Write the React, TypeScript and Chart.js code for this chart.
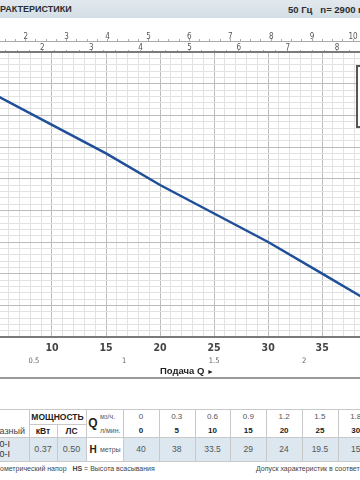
import React, { useEffect, useRef } from "react";
import { Chart, registerables } from "chart.js";
Chart.register(...registerables);

// ---- data ----
const qM3h = [0, 0.3, 0.6, 0.9, 1.2, 1.5, 1.8, 2.1, 2.4];
const qLmin = [0, 5, 10, 15, 20, 25, 30, 35, 40];
const headM = [40, 38, 33.5, 29, 24, 19.5, 15, 10, 5];
const powerKw = "0.37";
const powerHp = "0.50";
const models = ["50-I", "60-I"];
const m3hTicks = [0.5, 1, 1.5, 2];

// visible window of the (cropped) chart, in l/min and metres
const xMinLmin = 5.19;
const xMaxLmin = 38.5;
const yMinM = 0;
const yMaxM = 45;
const L_PER_M3H = 16.6667;
const L_PER_USGPM = 3.78541;
const L_PER_IMPGPM = 4.54609;

const FONT = "'Liberation Sans', Arial, sans-serif";
const NARROW = "'Liberation Sans Narrow', 'DejaVu Sans Condensed', 'Liberation Sans', sans-serif";

const isInt = (v: number) => Math.abs(v - Math.round(v)) < 1e-6;
const fixH = (h: number) => (s: any) => {
  s.height = h;
  s.paddingLeft = 0;
  s.paddingRight = 0;
  s.paddingTop = 0;
  s.paddingBottom = 0;
};

function PumpChart() {
  const ref = useRef<HTMLCanvasElement>(null);
  useEffect(() => {
    if (!ref.current) return;
    const majorMinor = (step: number) => (ctx: any) =>
      ctx.tick && isInt(ctx.tick.value / step) ? "#bcbcbc" : "#e2e2e2";
    const chart = new Chart(ref.current, {
      type: "line",
      data: {
        datasets: [
          {
            data: qLmin.map((q, i) => ({ x: q, y: headM[i] })),
            borderColor: "#1f4f98",
            borderWidth: 2.5,
            pointRadius: 0,
            tension: 0,
            fill: false,
          },
        ],
      },
      options: {
        animation: false,
        responsive: false,
        devicePixelRatio: 1,
        layout: { padding: { top: 29, left: 0, right: 0, bottom: 0 } },
        plugins: { legend: { display: false }, tooltip: { enabled: false } },
        events: [],
        scales: {
          x: {
            type: "linear",
            position: "bottom",
            weight: 0,
            min: xMinLmin,
            max: xMaxLmin,
            ticks: {
              stepSize: 1,
              includeBounds: false,
              autoSkip: false,
              maxRotation: 0,
              padding: 5,
              color: "#444",
              font: { family: NARROW, size: 10.5, weight: "bold" },
              callback: (v: any) => (isInt(v / 5) ? String(v) : ""),
            },
            grid: { color: majorMinor(5), lineWidth: 1, drawTicks: false },
            border: { display: true, color: "#7a7a7a", width: 2 },
            afterFit: fixH(18),
          },
          m3: {
            type: "linear",
            position: "bottom",
            weight: 1,
            min: xMinLmin / L_PER_M3H,
            max: xMaxLmin / L_PER_M3H,
            afterBuildTicks: (s: any) => {
              s.ticks = m3hTicks.map((v) => ({ value: v }));
            },
            ticks: {
              autoSkip: false,
              maxRotation: 0,
              padding: 1.5,
              color: "#666",
              font: { family: NARROW, size: 7.5 },
              callback: (v: any) => String(v),
            },
            grid: { display: false, drawTicks: false },
            border: { display: false },
            afterFit: fixH(15),
          },
          us: {
            type: "linear",
            position: "top",
            weight: 2,
            min: xMinLmin / L_PER_USGPM,
            max: xMaxLmin / L_PER_USGPM,
            ticks: {
              stepSize: 0.25,
              includeBounds: false,
              autoSkip: false,
              maxRotation: 0,
              padding: -3,
              color: "#555",
              font: { family: NARROW, size: 8 },
              callback: (v: any) => (isInt(v) ? String(v) : ""),
            },
            grid: { drawOnChartArea: false, drawTicks: true, tickLength: 2, color: "#aaa" },
            border: { display: true, color: "#aaa", width: 1 },
            afterFit: fixH(12),
          },
          imp: {
            type: "linear",
            position: "top",
            weight: 1,
            min: xMinLmin / L_PER_IMPGPM,
            max: xMaxLmin / L_PER_IMPGPM,
            ticks: {
              stepSize: 0.25,
              includeBounds: false,
              autoSkip: false,
              maxRotation: 0,
              padding: -3,
              color: "#555",
              font: { family: NARROW, size: 8 },
              callback: (v: any) => (isInt(v) ? String(v) : ""),
            },
            grid: { drawOnChartArea: false, drawTicks: true, tickLength: 2, color: "#aaa" },
            border: { display: true, color: "#7a7a7a", width: 2 },
            afterFit: fixH(11),
          },
          y: {
            type: "linear",
            position: "left",
            min: yMinM,
            max: yMaxM,
            ticks: { display: false, stepSize: 1 },
            grid: { color: majorMinor(5), lineWidth: 1, drawTicks: false },
            border: { display: false },
            afterFit: (s: any) => {
              s.width = 0;
              s.paddingTop = 0;
              s.paddingBottom = 0;
              s.paddingLeft = 0;
              s.paddingRight = 0;
            },
          },
        },
      } as any,
    });
    return () => chart.destroy();
  }, []);
  return (
    <canvas
      ref={ref}
      width={360}
      height={370}
      style={{ position: "absolute", left: 0, top: 0, width: 360, height: 370 }}
    />
  );
}

const abs = (s: React.CSSProperties): React.CSSProperties => ({ position: "absolute", ...s });

function Cell(props: {
  l: number; t: number; w: number; h: number; children?: React.ReactNode; style?: React.CSSProperties; align?: string;
}) {
  return (
    <div
      style={abs({
        left: props.l, top: props.t, width: props.w, height: props.h,
        display: "flex", alignItems: "center",
        justifyContent: (props.align as any) || "center",
        whiteSpace: "nowrap", ...props.style,
      })}
    >
      {props.children}
    </div>
  );
}

export default function App() {
  const colX0 = 123;
  const colW = 35.8;
  const rowA = 409, rowB = 424, rowC = 437, rowEnd = 461;
  const vline = (x: number, t: number, b: number, c = "#c9c9c9") => (
    <div key={`v${x}-${t}`} style={abs({ left: x, top: t, width: 1, height: b - t, background: c })} />
  );
  const hline = (y: number, l: number, r: number, c = "#c9c9c9", h = 1) => (
    <div key={`h${y}-${l}`} style={abs({ left: l, top: y, width: r - l, height: h, background: c })} />
  );
  return (
    <div
      style={abs({
        left: 0, top: 0, width: 360, height: 480, overflow: "hidden",
        background: "#fff", fontFamily: FONT, color: "#333",
      })}
    >
      <PumpChart />

      {/* header */}
      <div style={abs({ left: 0, top: 0, width: 360, height: 18, background: "linear-gradient(#e2e9ee, #d3dee6)" })} />
      <div style={abs({ left: 0, top: 4, fontSize: 9, fontWeight: "bold", color: "#2d2d2d", whiteSpace: "nowrap" })}>
        РАКТЕРИСТИКИ
      </div>
      <div style={abs({ left: 288, top: 4, fontSize: 9.5, fontWeight: "bold", color: "#2d2d2d", whiteSpace: "nowrap" })}>
        50 Гц&nbsp;&nbsp;&nbsp;n= 2900 min<sup style={{ fontSize: 6 }}>-1</sup>
      </div>

      {/* legend box (cropped) */}
      <div style={abs({ left: 356, top: 65, width: 40, height: 59, border: "2px solid #555", background: "#fff" })} />

      {/* axis title */}
      <div style={abs({ left: 160, top: 365, fontSize: 9.5, fontWeight: "bold", color: "#222", whiteSpace: "nowrap" })}>
        Подача Q <span style={{ fontSize: 7 }}>►</span>
      </div>
      {hline(377, 0, 360, "#9a9a9a", 2)}

      {/* table */}
      <div style={abs({ left: 0, top: rowC, width: 86, height: rowEnd - rowC, background: "#dce7ef" })} />
      <div style={abs({ left: colX0, top: rowC, width: 360 - colX0, height: rowEnd - rowC, background: "#dce7ef" })} />
      {hline(rowA, 0, 360)}
      {hline(rowC, 0, 360)}
      {hline(rowEnd, 0, 360)}
      {hline(rowB, 29, 86)}
      {vline(29, rowA, rowEnd)}
      {vline(57, rowB, rowEnd)}
      {vline(86, rowA, rowEnd)}
      {vline(colX0, rowA, rowEnd)}
      {qLmin.map((_, i) => vline(Math.round(colX0 + colW * (i + 1)), rowA, rowEnd))}

      <Cell l={-60} t={rowB} w={85} h={rowC - rowB} align="flex-end" style={{ fontSize: 9, color: "#444" }}>
        Однофазный
      </Cell>
      <Cell l={-40} t={rowC + 1} w={50} h={11} align="flex-end" style={{ fontSize: 9, color: "#333" }}>
        {models[0]}
      </Cell>
      <Cell l={-40} t={rowC + 11} w={50} h={11} align="flex-end" style={{ fontSize: 9, color: "#333" }}>
        {models[1]}
      </Cell>

      <Cell l={29} t={rowA} w={57} h={rowB - rowA} style={{ fontSize: 8.5, fontWeight: "bold", color: "#222" }}>
        МОЩНОСТЬ
      </Cell>
      <Cell l={29} t={rowB} w={28} h={rowC - rowB} style={{ fontSize: 8.5, fontWeight: "bold", color: "#222" }}>
        кВт
      </Cell>
      <Cell l={57} t={rowB} w={29} h={rowC - rowB} style={{ fontSize: 8.5, fontWeight: "bold", color: "#222" }}>
        ЛС
      </Cell>
      <Cell l={29} t={rowC} w={28} h={rowEnd - rowC} style={{ fontSize: 9, color: "#555" }}>
        {powerKw}
      </Cell>
      <Cell l={57} t={rowC} w={29} h={rowEnd - rowC} style={{ fontSize: 9, color: "#555" }}>
        {powerHp}
      </Cell>

      <Cell l={87} t={rowA} w={12} h={rowC - rowA} style={{ fontSize: 12, fontWeight: "bold", color: "#222" }}>
        Q
      </Cell>
      <Cell l={100} t={rowA} w={23} h={rowB - rowA} align="flex-start" style={{ fontSize: 7, color: "#555" }}>
        м<sup style={{ fontSize: 5 }}>3</sup>/ч.
      </Cell>
      <Cell l={100} t={rowB} w={23} h={rowC - rowB} align="flex-start" style={{ fontSize: 7, color: "#555" }}>
        л/мин.
      </Cell>
      <Cell l={87} t={rowC} w={12} h={rowEnd - rowC} style={{ fontSize: 10, fontWeight: "bold", color: "#222" }}>
        H
      </Cell>
      <Cell l={100} t={rowC} w={23} h={rowEnd - rowC} align="flex-start" style={{ fontSize: 7, color: "#555" }}>
        метры
      </Cell>

      {qM3h.map((v, i) => (
        <Cell key={`a${i}`} l={colX0 + colW * i} t={rowA} w={colW} h={rowB - rowA} style={{ fontSize: 8, color: "#555" }}>
          {String(v)}
        </Cell>
      ))}
      {qLmin.map((v, i) => (
        <Cell key={`b${i}`} l={colX0 + colW * i} t={rowB} w={colW} h={rowC - rowB} style={{ fontSize: 8, fontWeight: "bold", color: "#222" }}>
          {String(v)}
        </Cell>
      ))}
      {headM.map((v, i) => (
        <Cell key={`c${i}`} l={colX0 + colW * i} t={rowC} w={colW} h={rowEnd - rowC} style={{ fontSize: 8.5, color: "#555" }}>
          {String(v)}
        </Cell>
      ))}

      {/* footer notes */}
      <div style={abs({ left: 0, top: 465, fontSize: 7, color: "#444", whiteSpace: "nowrap" })}>
        ометрический напор&nbsp;&nbsp;&nbsp;<b>HS</b> = Высота всасывания
      </div>
      <div style={abs({ left: 256, top: 465, fontSize: 7, color: "#444", whiteSpace: "nowrap" })}>
        Допуск характеристик в соответствии с EN ISO 9906
      </div>
    </div>
  );
}
